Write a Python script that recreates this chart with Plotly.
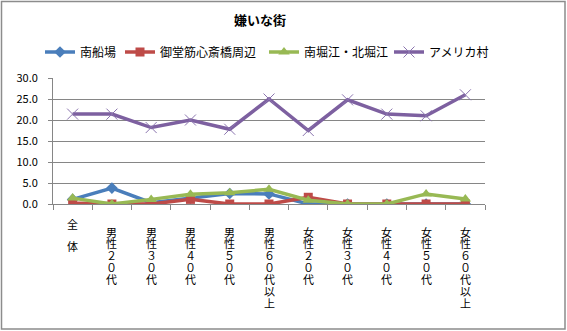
import plotly.graph_objects as go

categories = ["全体", "男性２０代", "男性３０代", "男性４０代", "男性５０代", "男性６０代以上",
              "女性２０代", "女性３０代", "女性４０代", "女性５０代", "女性６０代以上"]
series_names = ["南船場", "御堂筋心斎橋周辺", "南堀江・北堀江", "アメリカ村"]
minami_semba = [1.1, 3.8, 0.3, 1.4, 2.5, 2.4, 0.0, 0.0, 0.0, 0.0, 0.0]
midosuji = [0.2, 0.0, 0.0, 1.1, 0.0, 0.0, 1.6, 0.0, 0.0, 0.0, 0.0]
horie = [1.4, 0.0, 1.1, 2.3, 2.7, 3.5, 0.9, 0.0, 0.0, 2.4, 1.2]
amemura = [21.4, 21.4, 18.2, 20.0, 17.8, 25.0, 17.5, 24.8, 21.4, 21.0, 26.0]
y_ticks = [0, 5, 10, 15, 20, 25, 30]

W, H = 567, 331
ML, MR, MT, MB = 53, 82, 78, 127
FONT = "Noto Sans CJK JP"

fig = go.Figure()
styles = [
    dict(color="#4A7EBB", symbol="diamond", size=9),
    dict(color="#BE4B48", symbol="square", size=9),
    dict(color="#98B954", symbol="triangle-up", size=10),
    dict(color="#7D60A0", symbol="x-thin", size=11),
]
legend_ids = ["legend", "legend2", "legend3", "legend4"]
legend_x = [40, 120, 264, 389]
for name, vals, st, lid in zip(series_names, [minami_semba, midosuji, horie, amemura], styles, legend_ids):
    marker = dict(symbol=st["symbol"], size=st["size"], color=st["color"])
    if st["symbol"] == "x-thin":
        marker["line"] = dict(color="#8A74AE", width=1)
    fig.add_trace(go.Scatter(
        x=list(range(len(categories))), y=vals, name=name, mode="lines+markers",
        line=dict(color=st["color"], width=3.5), marker=marker, legend=lid,
    ))

# vertical stacked category labels (one character per line)
for i, lab in enumerate(categories):
    chars = list(lab)
    if len(chars) == 2:
        offsets = [20, 42]
    else:
        offsets = [27.5 + 11.9 * k for k in range(len(chars))]
    for ch, off in zip(chars, offsets):
        fig.add_annotation(x=i, y=0, xref="x", yref="y", text=ch,
                           showarrow=False, yanchor="middle", xanchor="center",
                           yshift=-off, font=dict(family=FONT, size=11, color="#000"))

pw = W - ML - MR
ph = H - MT - MB
fig.add_shape(type="rect", xref="paper", yref="paper",
              x0=(1.5 - ML) / pw, x1=(565 - ML) / pw,
              y0=-(329 - MT - ph) / ph, y1=1 + (MT - 1.5) / ph,
              line=dict(color="#8C8C8C", width=1.5), fillcolor="rgba(0,0,0,0)")

legend_common = dict(orientation="h", xref="container", y=1 - 52 / H, yref="container",
                     xanchor="left", yanchor="middle", font=dict(family=FONT, size=12, color="#000"),
                     itemwidth=30, bgcolor="rgba(0,0,0,0)")
layout_legends = {lid: dict(x=lx / W, **legend_common) for lid, lx in zip(legend_ids, legend_x)}

fig.update_layout(
    width=W, height=H, margin=dict(l=ML, r=MR, t=MT, b=MB, autoexpand=False),
    paper_bgcolor="white", plot_bgcolor="white",
    font=dict(family=FONT, size=10, color="#000"),
    title=dict(text="<b>嫌いな街</b>", x=260 / W, xanchor="center", y=1 - 20 / H, yanchor="middle",
               font=dict(family=FONT, size=13, color="#000")),
    showlegend=True,
    xaxis=dict(range=[-0.5, len(categories) - 0.5], tickmode="array",
               tickvals=[i - 0.5 for i in range(len(categories) + 1)],
               showticklabels=False, ticks="outside", ticklen=5, tickcolor="#868686",
               showgrid=False, showline=True, linecolor="#868686", linewidth=1, zeroline=False,
               automargin=False),
    yaxis=dict(range=[0, 30], tickmode="array", tickvals=y_ticks,
               ticktext=[f"{v:.1f}" for v in y_ticks], ticks="outside", ticklen=4,
               tickcolor="#868686", showline=True, linecolor="#868686", linewidth=1,
               showgrid=True, gridcolor="#868686", gridwidth=1, zeroline=False,
               ticklabelstandoff=8, automargin=False,
               tickfont=dict(family=FONT, size=11, color="#000")),
    **layout_legends,
)
fig.write_html("out.html")
